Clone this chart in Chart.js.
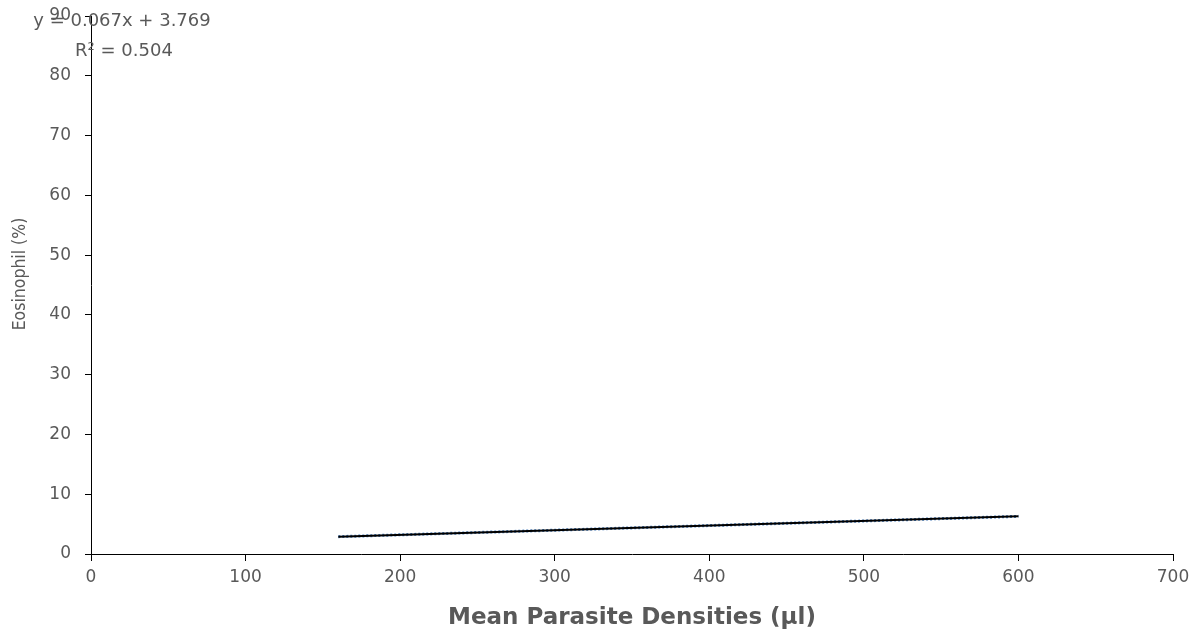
<!DOCTYPE html>
<html>
<head>
<meta charset="utf-8">
<script src="https://cdn.jsdelivr.net/npm/chart.js@4/dist/chart.umd.min.js"></script>
<style>
  html, body { margin: 0; padding: 0; background: #fff; }
  #wrap { width: 1202px; height: 632px; }
</style>
</head>
<body>
<div id="wrap"><canvas id="chart"></canvas></div>
<script>
// valores
const densities = [160, 600];
const eosinophil = [2.9, 6.3];
const equationLines = ['y = 0.067x + 3.769', 'R\u00b2 = 0.504'];
const yTitle = 'Eosinophil (%)';

const points = densities.map((x, i) => ({ x: x, y: eosinophil[i] }));

// equação e título do eixo y
const textPlugin = {
  id: 'extraText',
  afterDraw(chart) {
    const ctx = chart.ctx;
    ctx.save();
    ctx.font = '18px "DejaVu Sans"';
    ctx.fillStyle = '#595959';
    ctx.textAlign = 'center';
    ctx.textBaseline = 'middle';
    ctx.fillText(equationLines[0], 122, 21);
    ctx.fillText(equationLines[1], 124, 51);

    ctx.translate(20, 274);
    ctx.rotate(-Math.PI / 2);
    ctx.font = '17.5px "DejaVu Sans Condensed"';
    ctx.fillText(yTitle, 0, 0);
    ctx.restore();
  }
};

const ctx = document.getElementById('chart').getContext('2d');
const chart = new Chart(ctx, {
  type: 'scatter',
  data: {
    datasets: [{
      label: 'Linear',
      data: points,
      showLine: true,
      borderColor: '#000000',
      borderWidth: 2,
      pointRadius: 0,
      order: 1
    }, {
      label: 'Series',
      data: points,
      showLine: true,
      borderColor: '#4a7ebb',
      borderWidth: 3,
      borderDash: [2, 2],
      pointRadius: 0,
      order: 2
    }]
  },
  options: {
    responsive: true,
    maintainAspectRatio: false,
    animation: false,
    layout: { padding: { top: 16, right: 29, left: 0, bottom: 0 } },
    plugins: {
      legend: { display: false },
      tooltip: { enabled: false }
    },
    scales: {
      x: {
        type: 'linear',
        min: 0,
        max: 700,
        ticks: {
          stepSize: 100,
          color: '#595959',
          font: { family: 'DejaVu Sans', size: 17 },
          padding: 6
        },
        grid: { drawOnChartArea: false, drawTicks: true, tickLength: 7, color: '#000' },
        border: { display: true, color: '#000', width: 1 },
        title: {
          display: true,
          text: 'Mean Parasite Densities (\u00b5l)',
          color: '#595959',
          font: { family: 'DejaVu Sans', size: 23, weight: 'bold' },
          padding: { top: 1, bottom: 0 }
        },
        afterFit(scale) { scale.height = 78; }
      },
      y: {
        min: 0,
        max: 90,
        ticks: {
          stepSize: 10,
          color: '#595959',
          font: { family: 'DejaVu Sans', size: 17 },
          padding: 14
        },
        grid: { drawOnChartArea: false, drawTicks: true, tickLength: 6, color: '#000' },
        border: { display: true, color: '#000', width: 1 },
        title: { display: false },
        afterFit(scale) {
          scale.width = 91;
          scale.paddingTop = 0;
          scale.paddingBottom = 0;
        }
      }
    }
  },
  plugins: [textPlugin]
});
</script>
</body>
</html>
